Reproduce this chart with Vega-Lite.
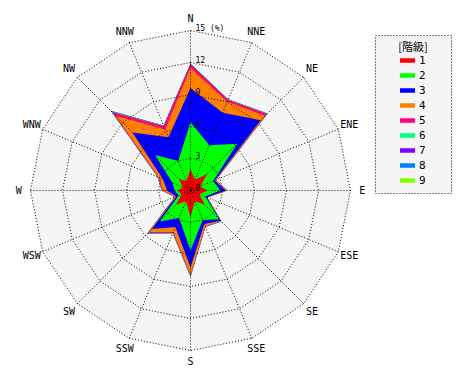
{
  "$schema": "https://vega.github.io/schema/vega-lite/v6.json",
  "width": 470,
  "height": 380,
  "padding": 0,
  "autosize": {"type": "none"},
  "background": "white",
  "config": {"view": {"stroke": null}},
  "datasets": {
    "dirs": [
      {"d": "N"}, {"d": "NNE"}, {"d": "NE"}, {"d": "ENE"}, {"d": "E"}, {"d": "ESE"}, {"d": "SE"}, {"d": "SSE"},
      {"d": "S"}, {"d": "SSW"}, {"d": "SW"}, {"d": "WSW"}, {"d": "W"}, {"d": "WNW"}, {"d": "NW"}, {"d": "NNW"}
    ],
    "ticks": [
      {"r": 0, "t": "0"}, {"r": 3, "t": "3"}, {"r": 6, "t": "6"}, {"r": 9, "t": "9"}, {"r": 12, "t": "12"}, {"r": 15, "t": "15 (%)"}
    ],
    "wind": [
      {"d": "N", "c": 9, "v": 0.01}, {"d": "N", "c": 8, "v": 0.01}, {"d": "N", "c": 7, "v": 0.01}, {"d": "N", "c": 6, "v": 0.03}, {"d": "N", "c": 5, "v": 0.35}, {"d": "N", "c": 4, "v": 1.9}, {"d": "N", "c": 3, "v": 3.2}, {"d": "N", "c": 2, "v": 4.4}, {"d": "N", "c": 1, "v": 2.0},
      {"d": "NNE", "c": 9, "v": 0}, {"d": "NNE", "c": 8, "v": 0.01}, {"d": "NNE", "c": 7, "v": 0.01}, {"d": "NNE", "c": 6, "v": 0.03}, {"d": "NNE", "c": 5, "v": 0.2}, {"d": "NNE", "c": 4, "v": 1.1}, {"d": "NNE", "c": 3, "v": 3.3}, {"d": "NNE", "c": 2, "v": 3.5}, {"d": "NNE", "c": 1, "v": 1.1},
      {"d": "NE", "c": 9, "v": 0}, {"d": "NE", "c": 8, "v": 0.01}, {"d": "NE", "c": 7, "v": 0.01}, {"d": "NE", "c": 6, "v": 0.04}, {"d": "NE", "c": 5, "v": 0.25}, {"d": "NE", "c": 4, "v": 0.6}, {"d": "NE", "c": 3, "v": 3.1}, {"d": "NE", "c": 2, "v": 4.0}, {"d": "NE", "c": 1, "v": 2.2},
      {"d": "ENE", "c": 9, "v": 0}, {"d": "ENE", "c": 8, "v": 0}, {"d": "ENE", "c": 7, "v": 0}, {"d": "ENE", "c": 6, "v": 0.02}, {"d": "ENE", "c": 5, "v": 0.03}, {"d": "ENE", "c": 4, "v": 0.1}, {"d": "ENE", "c": 3, "v": 0.15}, {"d": "ENE", "c": 2, "v": 1.3}, {"d": "ENE", "c": 1, "v": 1.0},
      {"d": "E", "c": 9, "v": 0}, {"d": "E", "c": 8, "v": 0}, {"d": "E", "c": 7, "v": 0}, {"d": "E", "c": 6, "v": 0.02}, {"d": "E", "c": 5, "v": 0.03}, {"d": "E", "c": 4, "v": 0.1}, {"d": "E", "c": 3, "v": 0.5}, {"d": "E", "c": 2, "v": 1.2}, {"d": "E", "c": 1, "v": 1.6},
      {"d": "ESE", "c": 9, "v": 0}, {"d": "ESE", "c": 8, "v": 0}, {"d": "ESE", "c": 7, "v": 0}, {"d": "ESE", "c": 6, "v": 0}, {"d": "ESE", "c": 5, "v": 0.02}, {"d": "ESE", "c": 4, "v": 0.03}, {"d": "ESE", "c": 3, "v": 0.15}, {"d": "ESE", "c": 2, "v": 0.6}, {"d": "ESE", "c": 1, "v": 0.9},
      {"d": "SE", "c": 9, "v": 0}, {"d": "SE", "c": 8, "v": 0}, {"d": "SE", "c": 7, "v": 0}, {"d": "SE", "c": 6, "v": 0.02}, {"d": "SE", "c": 5, "v": 0.03}, {"d": "SE", "c": 4, "v": 0.05}, {"d": "SE", "c": 3, "v": 0.2}, {"d": "SE", "c": 2, "v": 1.9}, {"d": "SE", "c": 1, "v": 1.9},
      {"d": "SSE", "c": 9, "v": 0}, {"d": "SSE", "c": 8, "v": 0}, {"d": "SSE", "c": 7, "v": 0}, {"d": "SSE", "c": 6, "v": 0.03}, {"d": "SSE", "c": 5, "v": 0.05}, {"d": "SSE", "c": 4, "v": 0.2}, {"d": "SSE", "c": 3, "v": 0.4}, {"d": "SSE", "c": 2, "v": 1.9}, {"d": "SSE", "c": 1, "v": 1.1},
      {"d": "S", "c": 9, "v": 0.01}, {"d": "S", "c": 8, "v": 0.01}, {"d": "S", "c": 7, "v": 0.02}, {"d": "S", "c": 6, "v": 0.06}, {"d": "S", "c": 5, "v": 0.1}, {"d": "S", "c": 4, "v": 0.7}, {"d": "S", "c": 3, "v": 1.6}, {"d": "S", "c": 2, "v": 3.1}, {"d": "S", "c": 1, "v": 2.5},
      {"d": "SSW", "c": 9, "v": 0}, {"d": "SSW", "c": 8, "v": 0}, {"d": "SSW", "c": 7, "v": 0}, {"d": "SSW", "c": 6, "v": 0.05}, {"d": "SSW", "c": 5, "v": 0.1}, {"d": "SSW", "c": 4, "v": 0.5}, {"d": "SSW", "c": 3, "v": 0.9}, {"d": "SSW", "c": 2, "v": 1.7}, {"d": "SSW", "c": 1, "v": 1.1},
      {"d": "SW", "c": 9, "v": 0}, {"d": "SW", "c": 8, "v": 0.01}, {"d": "SW", "c": 7, "v": 0.02}, {"d": "SW", "c": 6, "v": 0.07}, {"d": "SW", "c": 5, "v": 0.15}, {"d": "SW", "c": 4, "v": 0.4}, {"d": "SW", "c": 3, "v": 1.0}, {"d": "SW", "c": 2, "v": 2.2}, {"d": "SW", "c": 1, "v": 1.9},
      {"d": "WSW", "c": 9, "v": 0}, {"d": "WSW", "c": 8, "v": 0}, {"d": "WSW", "c": 7, "v": 0}, {"d": "WSW", "c": 6, "v": 0.02}, {"d": "WSW", "c": 5, "v": 0.03}, {"d": "WSW", "c": 4, "v": 0.1}, {"d": "WSW", "c": 3, "v": 0.25}, {"d": "WSW", "c": 2, "v": 0.3}, {"d": "WSW", "c": 1, "v": 0.9},
      {"d": "W", "c": 9, "v": 0}, {"d": "W", "c": 8, "v": 0}, {"d": "W", "c": 7, "v": 0}, {"d": "W", "c": 6, "v": 0.02}, {"d": "W", "c": 5, "v": 0.08}, {"d": "W", "c": 4, "v": 0.4}, {"d": "W", "c": 3, "v": 0.7}, {"d": "W", "c": 2, "v": 0.3}, {"d": "W", "c": 1, "v": 1.2},
      {"d": "WNW", "c": 9, "v": 0}, {"d": "WNW", "c": 8, "v": 0}, {"d": "WNW", "c": 7, "v": 0}, {"d": "WNW", "c": 6, "v": 0.05}, {"d": "WNW", "c": 5, "v": 0.1}, {"d": "WNW", "c": 4, "v": 0.4}, {"d": "WNW", "c": 3, "v": 1.0}, {"d": "WNW", "c": 2, "v": 1.0}, {"d": "WNW", "c": 1, "v": 0.8},
      {"d": "NW", "c": 9, "v": 0.03}, {"d": "NW", "c": 8, "v": 0.03}, {"d": "NW", "c": 7, "v": 0.02}, {"d": "NW", "c": 6, "v": 0.12}, {"d": "NW", "c": 5, "v": 0.5}, {"d": "NW", "c": 4, "v": 2.2}, {"d": "NW", "c": 3, "v": 3.0}, {"d": "NW", "c": 2, "v": 3.2}, {"d": "NW", "c": 1, "v": 1.5},
      {"d": "NNW", "c": 9, "v": 0}, {"d": "NNW", "c": 8, "v": 0}, {"d": "NNW", "c": 7, "v": 0.01}, {"d": "NNW", "c": 6, "v": 0.04}, {"d": "NNW", "c": 5, "v": 0.35}, {"d": "NNW", "c": 4, "v": 0.8}, {"d": "NNW", "c": 3, "v": 2.4}, {"d": "NNW", "c": 2, "v": 2.0}, {"d": "NNW", "c": 1, "v": 1.0}
    ]
  },
  "encoding": {
    "x": {"field": "px", "type": "quantitative", "axis": null, "scale": {"domain": [-17.859375, 26.203125], "nice": false, "zero": false}},
    "y": {"field": "py", "type": "quantitative", "axis": null, "scale": {"domain": [-17.765625, 17.859375], "nice": false, "zero": false}}
  },
  "layer": [
    {
      "data": {"name": "dirs"},
      "transform": [
        {"calculate": "indexof(['N','NNE','NE','ENE','E','ESE','SE','SSE','S','SSW','SW','WSW','W','WNW','NW','NNW'], datum.d) * PI / 8", "as": "a"},
        {"calculate": "15 * sin(datum.a)", "as": "px"},
        {"calculate": "15 * cos(datum.a)", "as": "py"}
      ],
      "mark": {"type": "line", "interpolate": "linear-closed", "filled": true, "fill": "#f5f5f5", "strokeWidth": 0},
      "encoding": {"order": {"field": "a", "type": "quantitative"}}
    },
    {
      "data": {"name": "wind"},
      "transform": [
        {"calculate": "indexof(['N','NNE','NE','ENE','E','ESE','SE','SSE','S','SSW','SW','WSW','W','WNW','NW','NNW'], datum.d) * PI / 8", "as": "a"},
        {"window": [{"op": "sum", "field": "v", "as": "cum"}], "groupby": ["d"], "sort": [{"field": "c", "order": "ascending"}], "frame": [null, 0]},
        {"calculate": "datum.cum * sin(datum.a)", "as": "px"},
        {"calculate": "datum.cum * cos(datum.a)", "as": "py"}
      ],
      "mark": {"type": "line", "interpolate": "linear-closed", "filled": true, "strokeWidth": 0, "opacity": 1},
      "encoding": {
        "color": {
          "field": "c", "type": "nominal", "title": "\u2800\u2800[階級]\u2800\u2800",
          "scale": {"domain": [1, 2, 3, 4, 5, 6, 7, 8, 9], "range": ["#ff0000", "#00ff00", "#0000ff", "#ff8000", "#ff0080", "#00ff80", "#8000ff", "#0080ff", "#80ff00"]},
          "legend": {
            "orient": "none", "legendX": 375, "legendY": 35,
            "padding": 7, "titlePadding": 0, "rowPadding": 2,
            "fillColor": "#f5f5f5", "strokeColor": "#000000", "cornerRadius": 0,
            "titleFont": "Noto Sans CJK JP", "titleFontSize": 11, "titleFontWeight": "normal", "titleColor": "#000000", "titleAnchor": "middle",
            "labelFont": "DejaVu Sans Mono", "labelFontSize": 11, "labelColor": "#000000", "labelOffset": 4,
            "symbolType": "M-1,-0.3H1V0.3H-1Z", "symbolSize": 225, "symbolStrokeWidth": 0, "symbolOpacity": 1,
            "encode": {"legend": {"update": {"strokeDash": {"value": [1, 2]}}}}
          }
        },
        "order": {"field": "a", "type": "quantitative"}
      }
    },
    {
      "data": {"name": "dirs"},
      "transform": [
        {"calculate": "indexof(['N','NNE','NE','ENE','E','ESE','SE','SSE','S','SSW','SW','WSW','W','WNW','NW','NNW'], datum.d) * PI / 8", "as": "a"},
        {"calculate": "[3, 6, 9, 12, 15]", "as": "ring"},
        {"flatten": ["ring"]},
        {"calculate": "datum.ring * sin(datum.a)", "as": "px"},
        {"calculate": "datum.ring * cos(datum.a)", "as": "py"}
      ],
      "mark": {"type": "line", "interpolate": "linear-closed", "color": "#000000", "strokeWidth": 1, "strokeDash": [1, 2]},
      "encoding": {"detail": {"field": "ring", "type": "nominal"}, "order": {"field": "a", "type": "quantitative"}}
    },
    {
      "data": {"name": "dirs"},
      "transform": [
        {"calculate": "indexof(['N','NNE','NE','ENE','E','ESE','SE','SSE','S','SSW','SW','WSW','W','WNW','NW','NNW'], datum.d) * PI / 8", "as": "a"},
        {"calculate": "0", "as": "px"},
        {"calculate": "0", "as": "py"},
        {"calculate": "15 * sin(datum.a)", "as": "ex"},
        {"calculate": "15 * cos(datum.a)", "as": "ey"}
      ],
      "mark": {"type": "rule", "color": "#000000", "strokeWidth": 1, "strokeDash": [1, 2]},
      "encoding": {"x2": {"field": "ex"}, "y2": {"field": "ey"}}
    },
    {
      "data": {"name": "dirs"},
      "transform": [
        {"calculate": "indexof(['N','NNE','NE','ENE','E','ESE','SE','SSE','S','SSW','SW','WSW','W','WNW','NW','NNW'], datum.d) * PI / 8", "as": "a"},
        {"calculate": "16.1 * sin(datum.a)", "as": "px"},
        {"calculate": "16.1 * cos(datum.a)", "as": "py"}
      ],
      "mark": {"type": "text", "font": "DejaVu Sans Mono", "fontSize": 10, "align": "center", "baseline": "middle", "color": "#000000"},
      "encoding": {"text": {"field": "d"}}
    },
    {
      "data": {"name": "ticks"},
      "transform": [
        {"calculate": "0", "as": "px"},
        {"calculate": "datum.r", "as": "py"}
      ],
      "mark": {"type": "text", "font": "DejaVu Sans Mono", "fontSize": 8, "align": "left", "baseline": "alphabetic", "dx": 5, "dy": 0, "color": "#000000"},
      "encoding": {"text": {"field": "t"}}
    }
  ]
}
